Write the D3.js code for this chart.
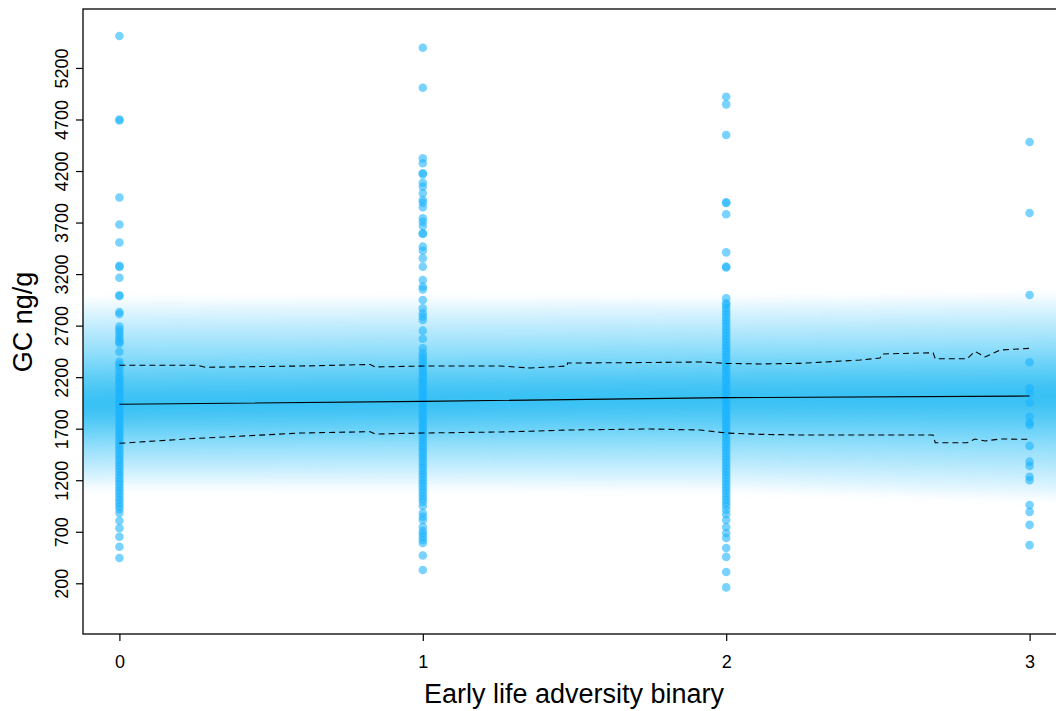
<!DOCTYPE html>
<html>
<head>
<meta charset="utf-8">
<script src="https://cdn.jsdelivr.net/npm/d3@7"></script>
<style>
  body { margin: 0; background: #fff; }
  text { font-family: "Liberation Sans", Arial, sans-serif; fill: #000; }
</style>
</head>
<body>
<svg width="1056" height="711"></svg>
<script>
// group values (GC ng/g)
const group0 = [5510, 4690, 4700, 3943, 3681, 3506, 3270, 3280, 3165, 2987, 2995, 2832, 2812,
  2690, 2660, 2630, 2600, 2570, 2545, 2528, 2447, 2350, 2320, 2290, 2250, 2210, 2180, 2150,
  2120, 2090, 2060, 2030, 2000, 1970, 1940, 1910, 1880, 1850, 1820, 1790, 1760, 1730, 1700,
  1670, 1640, 1610, 1580, 1550, 1520, 1490, 1460, 1430, 1400, 1370, 1340, 1310, 1280, 1250,
  1220, 1190, 1160, 1130, 1100, 1070, 1040, 1010, 980, 950, 920, 882, 807, 734, 652, 555, 445];
const group1 = [5396, 5008, 4323, 4275, 4178, 4170, 4087, 4048, 3984, 3919, 3893, 3848, 3741,
  3708, 3667, 3596, 3590, 3466, 3427, 3353, 3272, 3143, 3078, 3052, 2949, 2868, 2820, 2787,
  2755, 2651, 2573, 2480, 2431, 2400, 2370, 2340, 2310, 2280, 2250, 2220, 2190, 2160, 2130,
  2100, 2070, 2040, 2010, 1980, 1950, 1920, 1890, 1860, 1830, 1800, 1770, 1740, 1710, 1680,
  1650, 1620, 1590, 1560, 1530, 1500, 1470, 1440, 1410, 1380, 1350, 1320, 1290, 1260, 1230,
  1200, 1170, 1140, 1110, 1080, 1050, 1020, 990, 950, 882, 846, 814, 749, 707, 680, 650, 620,
  591, 469, 329];
const group2 = [4921, 4847, 4549, 3896, 3890, 3780, 3411, 3272, 3265, 2965, 2917, 2900, 2870,
  2840, 2810, 2780, 2750, 2720, 2690, 2660, 2630, 2600, 2570, 2540, 2510, 2480, 2450, 2420,
  2390, 2360, 2330, 2300, 2270, 2240, 2210, 2180, 2150, 2120, 2090, 2060, 2030, 2000, 1970,
  1940, 1910, 1880, 1850, 1820, 1790, 1760, 1730, 1700, 1670, 1640, 1610, 1580, 1550, 1520,
  1490, 1460, 1430, 1400, 1370, 1340, 1310, 1280, 1250, 1220, 1190, 1160, 1130, 1100, 1070,
  1040, 1010, 980, 950, 911, 870, 814, 746, 688, 639, 542, 456, 310, 160];
const group3 = [4481, 3793, 2997, 2344, 2092, 2043, 1952, 1816, 1758, 1736, 1532, 1380, 1338,
  1234, 1200, 960, 893, 767, 570];

// fitted line and dashed interval
const fitX = [0, 1, 2, 3];
const fitY = [1937, 1965, 2001, 2017];
const ciX = [0, 0.257, 0.283, 0.596, 0.827, 0.843, 1, 1.255, 1.354, 1.476, 1.477, 1.75, 1.914,
  2, 2.112, 2.244, 2.441, 2.507, 2.514, 2.682, 2.689, 2.794, 2.82, 2.853, 2.903, 3];
const ciUpper = [2315, 2315, 2296, 2308, 2323, 2299, 2308, 2308, 2289, 2308, 2337, 2342, 2347,
  2334, 2328, 2334, 2366, 2386, 2425, 2437, 2379, 2379, 2450, 2396, 2463, 2480];
const ciLower = [1558, 1607, 1610, 1658, 1671, 1648, 1658, 1668, 1675, 1687, 1687, 1697, 1687,
  1658, 1645, 1639, 1639, 1639, 1639, 1639, 1564, 1564, 1600, 1581, 1600, 1597];

// shaded uncertainty band
const bandX = [-0.15, 0, 1, 2, 3, 3.15];
const bandMid = [1930, 1937, 1965, 2001, 2017, 2018];
const bandUp = [1000, 1000, 980, 950, 960, 960];
const bandDown = [800, 800, 830, 880, 980, 990];
const bandLevels = [1.0, 0.9, 0.8, 0.71, 0.62, 0.55, 0.48, 0.42, 0.37, 0.32, 0.27, 0.23,
  0.19, 0.15, 0.11, 0.07, 0.03];

const yTicks = [200, 700, 1200, 1700, 2200, 2700, 3200, 3700, 4200, 4700, 5200];
const xTicks = [0, 1, 2, 3];

const svg = d3.select("svg");
const margin = { top: 9, left: 83, bottom: 77, right: -10 };
const width = +svg.attr("width");
const height = +svg.attr("height");

const xScale = d3.scaleLinear().domain([-0.12, 3.12])
  .range([margin.left, width - margin.right]);
const yScale = d3.scaleLinear().domain([-292, 5772])
  .range([height - margin.bottom, margin.top]);

const defs = svg.append("defs");
defs.append("clipPath").attr("id", "plotclip")
  .append("rect")
  .attr("x", margin.left).attr("y", margin.top)
  .attr("width", width - margin.right - margin.left)
  .attr("height", height - margin.bottom - margin.top);
defs.append("filter").attr("id", "soft")
  .attr("x", "-5%").attr("y", "-30%").attr("width", "110%").attr("height", "160%")
  .append("feGaussianBlur").attr("stdDeviation", "0 5");

const plot = svg.append("g").attr("clip-path", "url(#plotclip)");

// band
const bandG = plot.append("g").attr("filter", "url(#soft)");
const bandData = bandX.map((x, i) => ({ x, mid: bandMid[i], up: bandUp[i], down: bandDown[i] }));
bandLevels.forEach((lv) => {
  const area = d3.area()
    .x((d) => xScale(d.x))
    .y0((d) => yScale(d.mid - d.down * lv))
    .y1((d) => yScale(d.mid + d.up * lv));
  bandG.append("path")
    .datum(bandData)
    .attr("d", area)
    .attr("fill", "rgb(10,178,248)")
    .attr("fill-opacity", 0.09);
});

// points
const groups = [group0, group1, group2, group3];
groups.forEach((vals, gi) => {
  plot.append("g").selectAll("circle")
    .data(vals)
    .enter()
    .append("circle")
    .attr("cx", xScale(gi))
    .attr("cy", (d) => yScale(d))
    .attr("r", 4.3)
    .attr("fill", "rgb(25,180,255)")
    .attr("fill-opacity", 0.58);
});

// fitted line
const fitLine = d3.line().x((d) => xScale(d[0])).y((d) => yScale(d[1]));
plot.append("path")
  .datum(fitX.map((x, i) => [x, fitY[i]]))
  .attr("d", fitLine)
  .attr("fill", "none").attr("stroke", "#000").attr("stroke-width", 1.1);

const ciLine = d3.line().x((d) => xScale(d[0])).y((d) => yScale(d[1]));
[ciUpper, ciLower].forEach((arr) => {
  plot.append("path")
    .datum(ciX.map((x, i) => [x, arr[i]]))
    .attr("d", ciLine)
    .attr("fill", "none").attr("stroke", "#000").attr("stroke-width", 1.1)
    .attr("stroke-dasharray", "6,4");
});

// box
svg.append("rect")
  .attr("x", margin.left).attr("y", margin.top)
  .attr("width", width - margin.right - margin.left)
  .attr("height", height - margin.bottom - margin.top)
  .attr("fill", "none").attr("stroke", "#000").attr("stroke-width", 1.3);

// y axis
const yAxisG = svg.append("g")
  .attr("transform", `translate(${margin.left},0)`)
  .call(d3.axisLeft(yScale).tickValues(yTicks).tickSize(7).tickPadding(4).tickFormat(d3.format("d")));
yAxisG.select(".domain").remove();
yAxisG.selectAll(".tick line").attr("stroke", "#000").attr("stroke-width", 1.2);
yAxisG.selectAll(".tick text")
  .attr("font-size", 18)
  .attr("text-anchor", "middle")
  .attr("dy", 0)
  .attr("x", 0)
  .attr("y", 0)
  .attr("transform", "translate(-15,0) rotate(-90)");

// x axis
const xAxisG = svg.append("g")
  .attr("transform", `translate(0,${height - margin.bottom})`)
  .call(d3.axisBottom(xScale).tickValues(xTicks).tickSize(7).tickPadding(14).tickFormat(d3.format("d")));
xAxisG.select(".domain").remove();
xAxisG.selectAll(".tick line").attr("stroke", "#000").attr("stroke-width", 1.2);
xAxisG.selectAll(".tick text").attr("font-size", 18);

// labels
svg.append("text")
  .attr("x", 574).attr("y", 703)
  .attr("text-anchor", "middle")
  .attr("font-size", 27)
  .text("Early life adversity binary");

svg.append("text")
  .attr("transform", "translate(32,322) rotate(-90)")
  .attr("text-anchor", "middle")
  .attr("font-size", 27)
  .text("GC ng/g");
</script>
</body>
</html>
